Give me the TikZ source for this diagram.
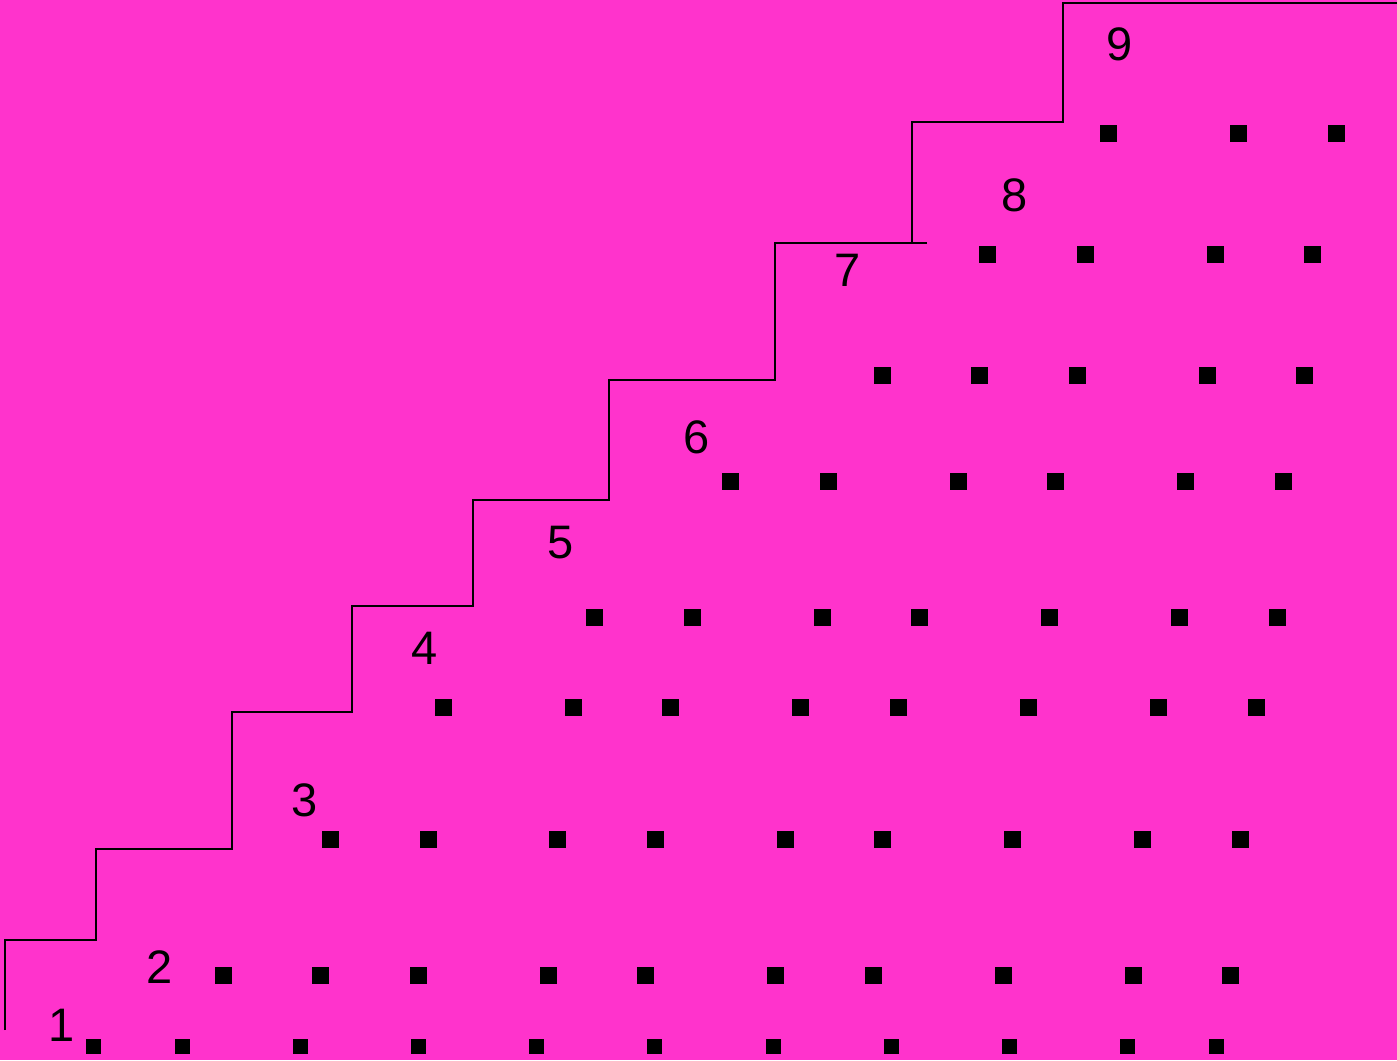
\documentclass[tikz,border=0pt]{standalone}
\usepackage{fontspec}
\setmainfont{Liberation Sans}
\definecolor{bgmag}{RGB}{255,51,204}
\begin{document}
\begin{tikzpicture}[x=1pt,y=-1pt,
  sq/.style={fill=black,draw=none,minimum size=17pt,inner sep=0pt,outer sep=0pt},
  sqs/.style={sq,minimum size=15pt},
  num/.style={inner sep=0pt,font=\fontsize{47}{56}\selectfont},
  stair/.style={line width=2pt,line join=miter,black}]
\fill[bgmag] (0,0) rectangle (1397,1060);
\useasboundingbox (0,0) rectangle (1397,1060);
% staircase
\draw[stair] (5,1030) -- (5,940) -- (96,940) -- (96,849) -- (232,849) -- (232,712)
  -- (352,712) -- (352,606) -- (473,606) -- (473,500) -- (609,500) -- (609,380)
  -- (775,380) -- (775,243) -- (927,243);
\draw[stair] (912,243) -- (912,122) -- (1063,122) -- (1063,3) -- (1398,3);
% labels
\node[num] (n1) at (62,1025) {1};
\node[num] (n2) at (160,967) {2};
\node[num] (n3) at (305,800) {3};
\node[num] (n4) at (425,648) {4};
\node[num] (n5) at (561,543) {5};
\node[num] (n6) at (697,437) {6};
\node[num] (n7) at (848,270) {7};
\node[num] (n8) at (1015,195) {8};
\node[num] (n9) at (1120,44) {9};
% squares
\foreach \x [count=\i] in {93.5,182.5,300.5,418.5,536.5,654.5,773.5,891.5,1009.5,1127.5,1216.5}
  \node[sqs] (a\i) at (\x,1046.5) {};
\foreach \x [count=\i] in {223.5,320.5,418.5,548.5,645.5,775.5,873.5,1003.5,1133.5,1230.5}
  \node[sq] (b\i) at (\x,975.5) {};
\foreach \x [count=\i] in {330.5,428,557.8,655.4,785.4,882.4,1012.5,1142.6,1240}
  \node[sq] (c\i) at (\x,839.5) {};
\foreach \x [count=\i] in {443.5,573.5,670.5,800.5,898.5,1028.5,1158.5,1256}
  \node[sq] (d\i) at (\x,707.5) {};
\foreach \x [count=\i] in {594.5,692.5,822.5,919,1049,1179,1277}
  \node[sq] (e\i) at (\x,617.5) {};
\foreach \x [count=\i] in {730.5,828.5,958.5,1055,1185.5,1283.5}
  \node[sq] (f\i) at (\x,481.5) {};
\foreach \x [count=\i] in {882.5,979.5,1077.5,1207.5,1304.5}
  \node[sq] (g\i) at (\x,375.5) {};
\foreach \x [count=\i] in {987.5,1085.5,1215.5,1312.5}
  \node[sq] (h\i) at (\x,254.5) {};
\foreach \x [count=\i] in {1108.5,1238.5,1336.5}
  \node[sq] (k\i) at (\x,133.5) {};
\end{tikzpicture}
\end{document}
